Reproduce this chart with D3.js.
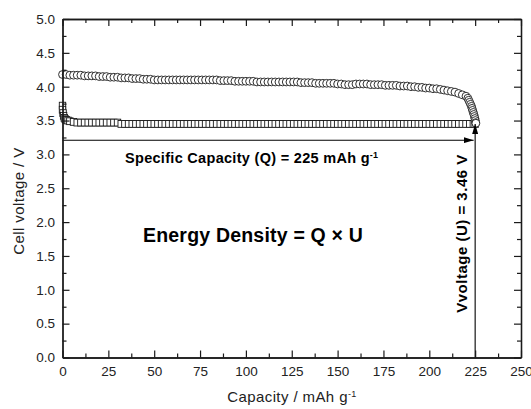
<!DOCTYPE html>
<html><head><meta charset="utf-8">
<script src="https://cdn.jsdelivr.net/npm/d3@7"></script>
<style>
html,body{margin:0;padding:0;background:#fff;}
svg{display:block;font-family:"Liberation Sans",Arial,sans-serif;}
</style></head>
<body>
<svg id="chart" width="531" height="409"></svg>
<script>
// ---- data ----
const chargeCap = [0,2,4,6,8,10,12,14,16,18,
20,22,24,26,28,30,32,34,36,38,
40,42,44,46,48,50,52,54,56,58,
60,62,64,66,68,70,72,74,76,78,
80,82,84,86,88,90,92,94,96,98,
100,102,104,106,108,110,112,114,116,118,
120,122,124,126,128,130,132,134,136,138,
140,142,144,146,148,150,152,154,156,158,
160,162,164,166,168,170,172,174,176,178,
180,182,184,186,188,190,192,194,196,198,
200,202,204,206,208,210,212,214,216,218,
220,221,221.5,222,222.5,223,223.3,223.6,224,224.3,224.6,224.9,225.1,225.3,225.4];
const chargeV = [4.18,4.18,4.17,4.17,4.17,4.17,4.16,4.16,4.16,4.16,
4.15,4.15,4.15,4.14,4.14,4.14,4.13,4.13,4.13,4.12,
4.12,4.12,4.11,4.11,4.11,4.10,4.10,4.10,4.10,4.10,
4.10,4.10,4.10,4.10,4.10,4.10,4.10,4.10,4.10,4.10,
4.10,4.10,4.10,4.09,4.09,4.09,4.09,4.08,4.08,4.08,
4.08,4.08,4.08,4.07,4.07,4.07,4.07,4.07,4.07,4.07,
4.07,4.07,4.07,4.07,4.07,4.06,4.06,4.06,4.06,4.05,
4.05,4.05,4.05,4.05,4.05,4.04,4.04,4.03,4.03,4.03,
4.04,4.04,4.04,4.04,4.03,4.03,4.03,4.03,4.02,4.02,
4.02,4.02,4.01,4.01,4.01,4.00,4.00,3.99,3.99,3.98,
3.98,3.97,3.97,3.96,3.95,3.94,3.93,3.92,3.90,3.88,
3.86,3.83,3.80,3.77,3.74,3.71,3.68,3.65,3.62,3.59,3.56,3.53,3.50,3.47,3.46];

const dischargeCap = [0,0,0.3,0.6,1,1.5,2,3,4,
6,8,10,12,14,16,18,20,22,24,26,28,30,
32,34,36,38,40,42,44,46,48,50,52,54,56,58,
60,62,64,66,68,70,72,74,76,78,
80,82,84,86,88,90,92,94,96,98,
100,102,104,106,108,110,112,114,116,118,
120,122,124,126,128,130,132,134,136,138,
140,142,144,146,148,150,152,154,156,158,
160,162,164,166,168,170,172,174,176,178,
180,182,184,186,188,190,192,194,196,198,
200,202,204,206,208,210,212,214,216,218,
220,222,224,225];
const dischargeV = [3.72,3.66,3.61,3.57,3.54,3.52,3.51,3.50,3.49,
3.48,3.47,3.47,3.47,3.47,3.47,3.47,3.47,3.47,3.47,3.47,3.47,3.47,
3.45,3.45,3.45,3.45,3.45,3.45,3.45,3.45,3.45,3.45,3.45,3.45,3.45,3.45,
3.45,3.45,3.45,3.45,3.45,3.45,3.45,3.45,3.45,3.45,
3.45,3.45,3.45,3.45,3.45,3.45,3.45,3.45,3.45,3.45,
3.45,3.45,3.45,3.45,3.45,3.45,3.45,3.45,3.45,3.45,
3.45,3.45,3.45,3.45,3.45,3.45,3.45,3.45,3.45,3.45,
3.45,3.45,3.45,3.45,3.45,3.45,3.45,3.45,3.45,3.45,
3.45,3.45,3.45,3.45,3.45,3.45,3.45,3.45,3.45,3.45,
3.45,3.45,3.45,3.45,3.45,3.45,3.45,3.45,3.45,3.45,
3.45,3.45,3.45,3.45,3.45,3.45,3.45,3.45,3.45,3.45,
3.45,3.45,3.45,3.45];

const xTicks = [0,25,50,75,100,125,150,175,200,225,250];
const xTickLabels = ["0","25","50","75","100","125","150","175","200","225","250"];
const xMinor = [12.5,37.5,62.5,87.5,112.5,137.5,162.5,187.5,212.5,237.5];
const yTicks = [0,0.5,1,1.5,2,2.5,3,3.5,4,4.5,5];
const yTickLabels = ["0.0","0.5","1.0","1.5","2.0","2.5","3.0","3.5","4.0","4.5","5.0"];
const yMinor = [0.25,0.75,1.25,1.75,2.25,2.75,3.25,3.75,4.25,4.75];

const capacityQ = 225;      // mAh g-1
const voltageU = 3.45;      // arrow tip
const qArrowV = 3.21;       // height of horizontal arrow

// ---- layout ----
const svg = d3.select("#chart");
const L = 62.5, R = 521, T = 19, B = 357.5;
const x = d3.scaleLinear().domain([0,250]).range([L,R]);
const y = d3.scaleLinear().domain([0,5]).range([B,T]);
const ink = "#1a1a1a";

// markers (arrowheads)
const defs = svg.append("defs");
defs.append("marker").attr("id","ah").attr("markerUnits","userSpaceOnUse")
  .attr("viewBox","0 0 10 6").attr("refX",10).attr("refY",3)
  .attr("markerWidth",10).attr("markerHeight",6).attr("orient","auto")
  .append("path").attr("d","M0,0L10,3L0,6Z").attr("fill","#000");

// data series
svg.append("g").selectAll("rect").data(dischargeCap.map((c,i)=>[c,dischargeV[i]]))
  .join("rect")
  .attr("x",d=>x(d[0])-3.2).attr("y",d=>y(d[1])-3.4)
  .attr("width",6.4).attr("height",6.8)
  .attr("fill","#fff").attr("stroke",ink).attr("stroke-width",0.9);

svg.append("g").selectAll("circle").data(chargeCap.map((c,i)=>[c,chargeV[i]]))
  .join("circle")
  .attr("cx",d=>x(d[0])).attr("cy",d=>y(d[1])).attr("r",3.9)
  .attr("fill","#fff").attr("stroke",ink).attr("stroke-width",0.9);

// arrows
svg.append("line").attr("x1",x(0)).attr("x2",x(capacityQ)-1.5)
  .attr("y1",y(qArrowV)).attr("y2",y(qArrowV))
  .attr("stroke","#000").attr("stroke-width",1.1).attr("marker-end","url(#ah)");
svg.append("line").attr("x1",x(capacityQ)).attr("x2",x(capacityQ))
  .attr("y1",y(0)).attr("y2",y(voltageU))
  .attr("stroke","#000").attr("stroke-width",1.1).attr("marker-end","url(#ah)");

// axes
function styleAxis(g){
  g.select(".domain").attr("stroke",ink).attr("stroke-width",1.3);
  g.selectAll(".tick line").attr("stroke",ink).attr("stroke-width",1.2);
  g.selectAll(".tick text").attr("fill","#222").style("font-size","13.5px")
   .style("font-family","'Liberation Sans',Arial,sans-serif");
}
svg.append("g").attr("transform",`translate(0,${B})`)
  .call(d3.axisBottom(x).tickValues(xTicks).tickFormat((d,i)=>xTickLabels[i])
    .tickSize(-7).tickSizeOuter(0).tickPadding(9)).call(styleAxis);
svg.append("g").attr("transform",`translate(0,${B})`)
  .call(d3.axisBottom(x).tickValues(xMinor).tickFormat("").tickSize(-4).tickSizeOuter(0)).call(styleAxis);
svg.append("g").attr("transform",`translate(0,${T})`)
  .call(d3.axisTop(x).tickValues(xTicks).tickFormat("").tickSize(-7).tickSizeOuter(0)).call(styleAxis);
svg.append("g").attr("transform",`translate(0,${T})`)
  .call(d3.axisTop(x).tickValues(xMinor).tickFormat("").tickSize(-4).tickSizeOuter(0)).call(styleAxis);
svg.append("g").attr("transform",`translate(${L},0)`)
  .call(d3.axisLeft(y).tickValues(yTicks).tickFormat((d,i)=>yTickLabels[i])
    .tickSize(-7).tickSizeOuter(0).tickPadding(7.5)).call(styleAxis);
svg.append("g").attr("transform",`translate(${L},0)`)
  .call(d3.axisLeft(y).tickValues(yMinor).tickFormat("").tickSize(-4).tickSizeOuter(0)).call(styleAxis);
svg.append("g").attr("transform",`translate(${R},0)`)
  .call(d3.axisRight(y).tickValues(yTicks).tickFormat("").tickSize(-7).tickSizeOuter(0)).call(styleAxis);
svg.append("g").attr("transform",`translate(${R},0)`)
  .call(d3.axisRight(y).tickValues(yMinor).tickFormat("").tickSize(-4).tickSizeOuter(0)).call(styleAxis);

// axis titles
const xt = svg.append("text").attr("x",292).attr("y",402).attr("text-anchor","middle")
  .attr("fill","#222").style("font-size","15px").style("letter-spacing","0.4px");
xt.append("tspan").text("Capacity / mAh g");
xt.append("tspan").attr("dy","-0.55em").style("font-size","9px").text("-1");

svg.append("text").attr("transform","translate(24,201) rotate(-90)")
  .attr("text-anchor","middle").attr("fill","#222")
  .style("font-size","15px").style("letter-spacing","0.4px").text("Cell voltage / V");

// annotations
const st = svg.append("text").attr("x",125).attr("y",162.5)
  .attr("fill","#000").style("font-size","14.5px").style("font-weight","bold")
  .style("letter-spacing","0.3px");
st.append("tspan").text("Specific Capacity (Q) = 225 mAh g");
st.append("tspan").attr("dy","-0.55em").style("font-size","9px").text("-1");

svg.append("text").attr("x",143).attr("y",241.5)
  .attr("fill","#000").style("font-size","19.5px").style("font-weight","bold")
  .style("letter-spacing","0.2px").text("Energy Density = Q \u00d7 U");

svg.append("text").attr("transform","translate(467,233.5) rotate(-90)")
  .attr("text-anchor","middle").attr("fill","#000")
  .style("font-size","15px").style("font-weight","bold").style("letter-spacing","0.5px")
  .text("Vvoltage (U) = 3.46 V");
</script>
</body></html>
